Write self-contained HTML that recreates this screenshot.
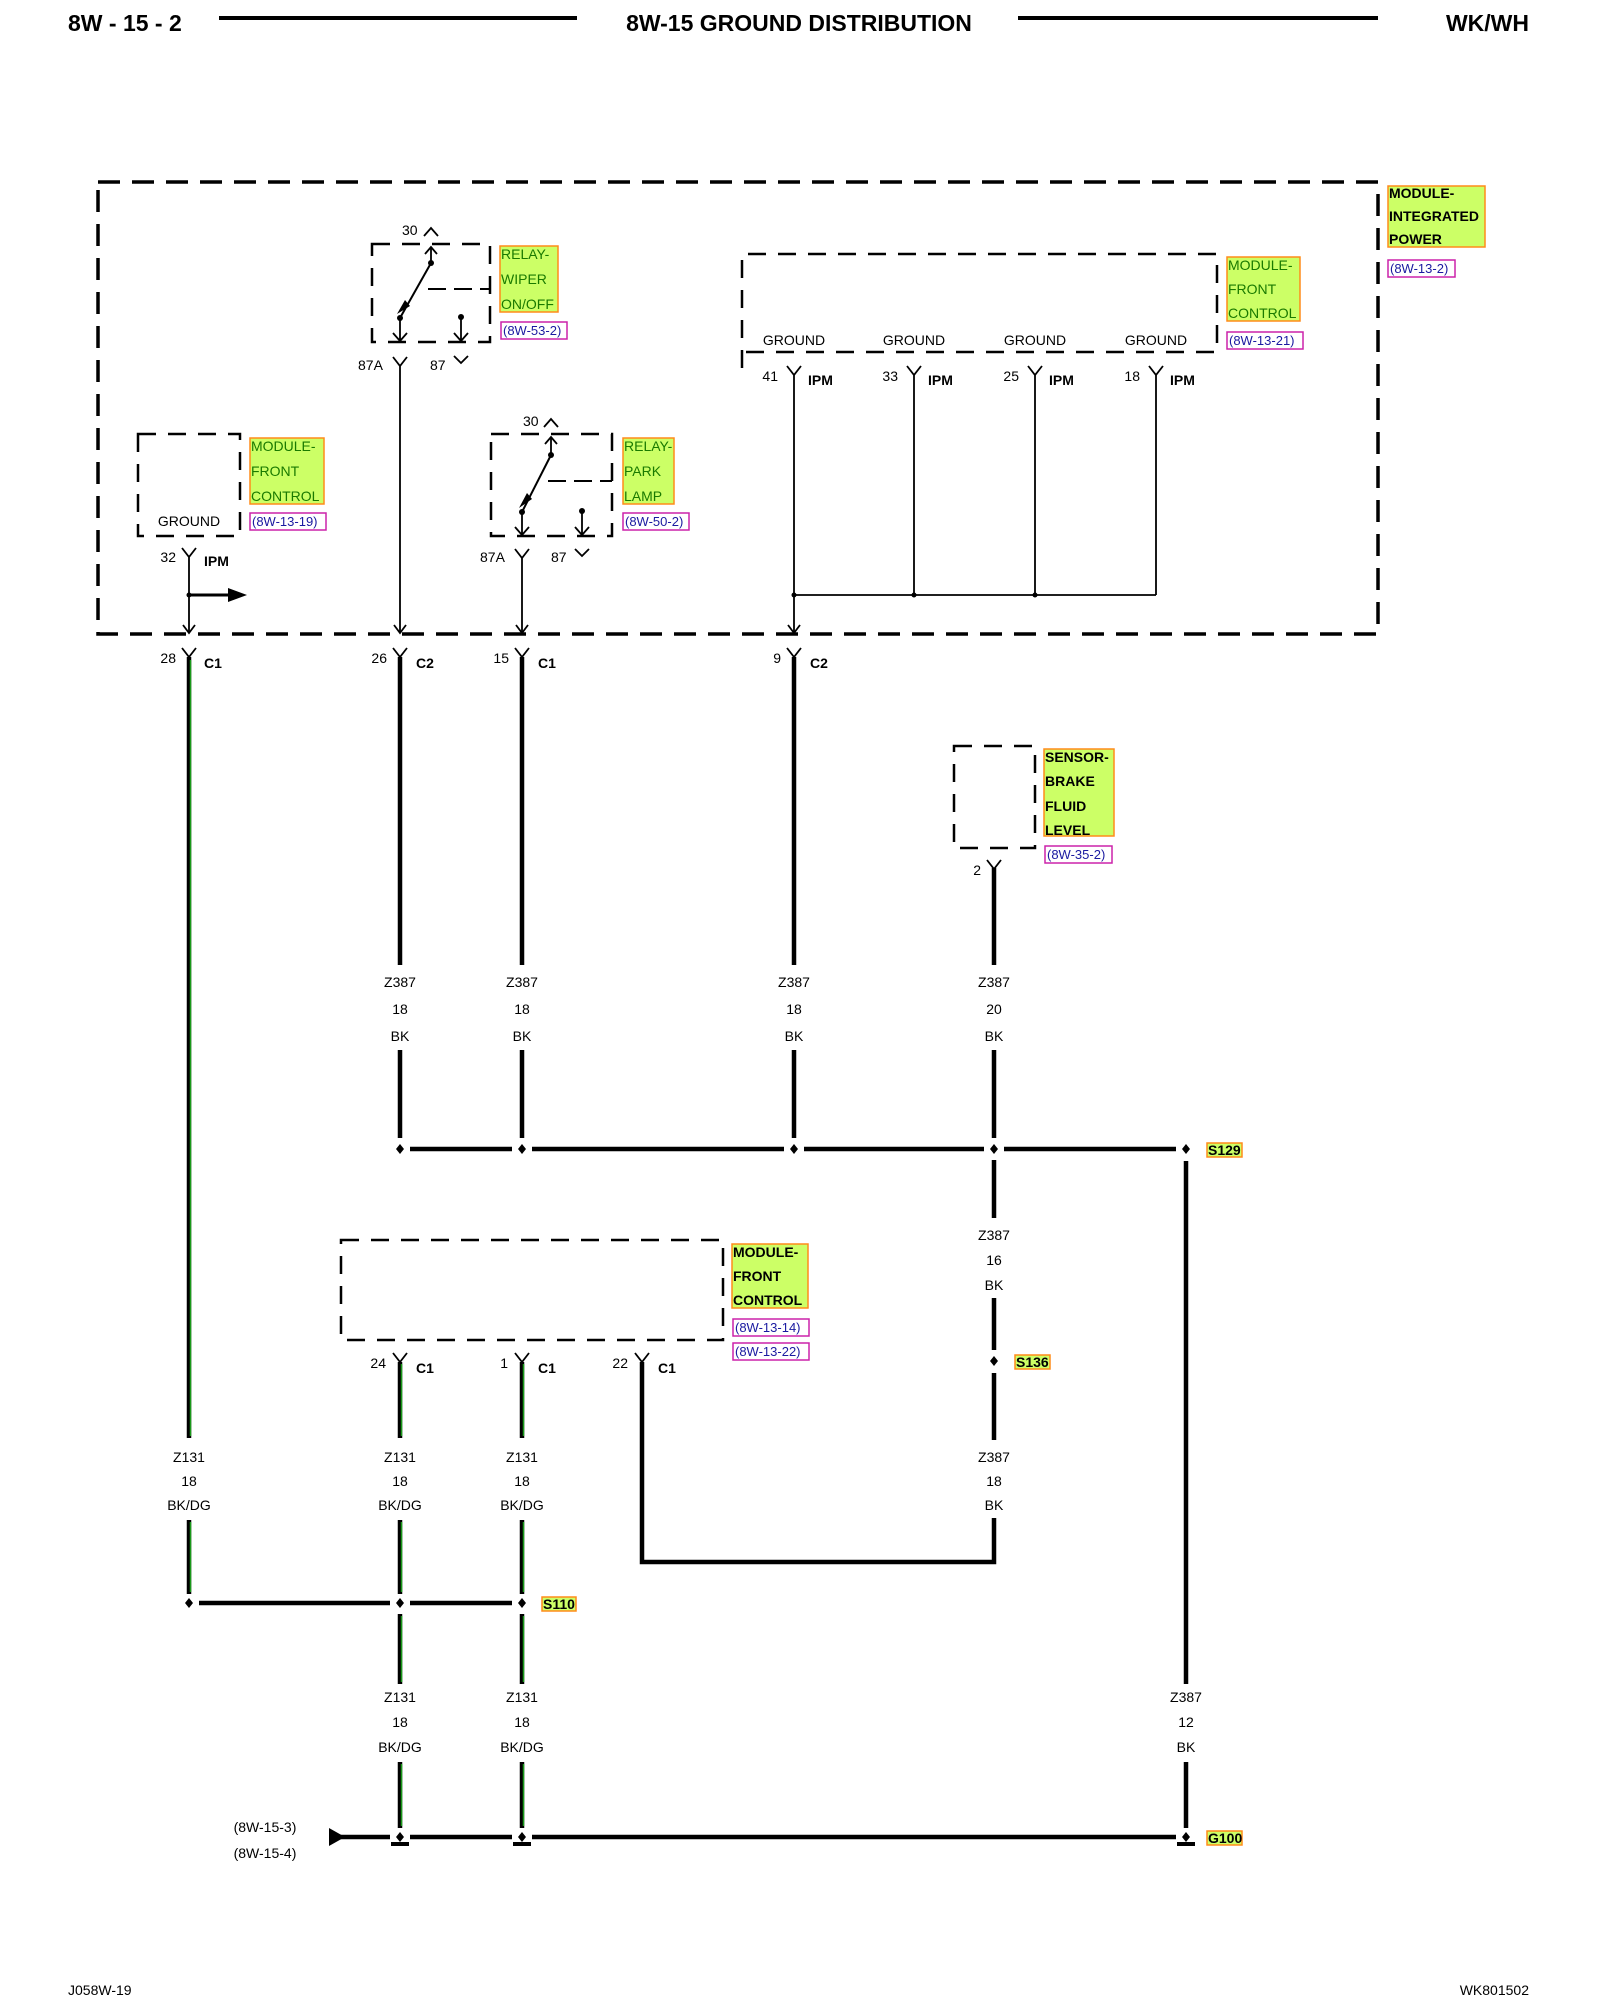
<!DOCTYPE html>
<html><head><meta charset="utf-8"><style>
html,body{margin:0;padding:0;background:#fff;}
svg{display:block;}
text{font-family:"Liberation Sans",sans-serif;}
</style></head><body>
<svg width="1600" height="2000" viewBox="0 0 1600 2000" xmlns="http://www.w3.org/2000/svg">
<defs>
<style>
.t{font-size:14px;fill:#000;}
.b{font-size:14px;font-weight:bold;fill:#000;}
.g{font-size:14px;fill:#1a7a00;}
.r{font-size:13px;fill:#1a1aa0;}
.h{font-size:23px;font-weight:bold;fill:#000;}
.fr{fill:none;stroke:#000;stroke-width:3.5;stroke-dasharray:22 12;}
.mb{fill:none;stroke:#000;stroke-width:2.5;stroke-dasharray:18 12;}
.thin{stroke:#000;stroke-width:1.8;fill:none;}
.w{stroke:#000;stroke-width:4.5;fill:none;}
.gw{stroke:#1a9a1a;stroke-width:1.5;fill:none;}
.lb{fill:#ccff66;stroke:#ff8c1a;stroke-width:1.5;}
.rb{fill:#fff;stroke:#cc22aa;stroke-width:1.5;}
</style>
</defs>
<!-- Header -->
<text x="68" y="31" class="h">8W - 15 - 2</text>
<line x1="219" y1="18" x2="577" y2="18" stroke="#000" stroke-width="4"/>
<text x="799" y="31" class="h" text-anchor="middle">8W-15 GROUND DISTRIBUTION</text>
<line x1="1018" y1="18" x2="1378" y2="18" stroke="#000" stroke-width="4"/>
<text x="1529" y="31" class="h" text-anchor="end">WK/WH</text>

<!-- IPM frame -->
<rect x="98" y="182" width="1280" height="452" class="fr"/>
<rect x="1388" y="186" width="97" height="61" class="lb"/>
<text x="1389" y="198" class="b">MODULE-</text>
<text x="1389" y="221" class="b">INTEGRATED</text>
<text x="1389" y="244" class="b">POWER</text>
<rect x="1388" y="260" width="67" height="17" class="rb"/>
<text x="1390" y="273" class="r">(8W-13-2)</text>

<!-- Wiper relay -->
<rect x="372" y="244" width="118" height="98" class="mb"/>
<text x="402" y="235" class="t">30</text>
<path d="M424 236 L431 228 L438 236" class="thin"/>
<path d="M431 263 L431 248 M425 254 L431 247 L437 254" class="thin"/>
<circle cx="431" cy="263" r="3"/>
<line x1="431" y1="263" x2="400" y2="318" stroke="#000" stroke-width="2"/>
<path d="M405 300 L397 314 L410 306 Z"/>
<circle cx="400" cy="318" r="3"/>
<path d="M400 318 L400 341 M393 333 L400 341 L407 333" class="thin"/>
<line x1="428" y1="289" x2="490" y2="289" stroke="#000" stroke-width="2" stroke-dasharray="18 8"/>
<circle cx="461" cy="317" r="3"/>
<path d="M461 317 L461 341 M454 333 L461 341 L468 333" class="thin"/>
<rect x="500" y="246" width="58" height="66" class="lb"/>
<text x="501" y="259" class="g">RELAY-</text>
<text x="501" y="284" class="g">WIPER</text>
<text x="501" y="309" class="g">ON/OFF</text>
<rect x="501" y="322" width="66" height="17" class="rb"/>
<text x="503" y="335" class="r">(8W-53-2)</text>
<text x="358" y="370" class="t">87A</text>
<path d="M393 357 L400 366 L407 357 M400 366 L400 632" class="thin"/>
<path d="M394 625 L400 633 L406 625" class="thin"/>
<text x="430" y="370" class="t">87</text>
<path d="M454 356 L461 363 L468 356" class="thin"/>

<!-- Front control module (top) -->
<path d="M742 368 L742 254 L1217 254 L1217 352 L742 352" class="mb"/>
<text x="794" y="345" class="t" text-anchor="middle">GROUND</text>
<text x="914" y="345" class="t" text-anchor="middle">GROUND</text>
<text x="1035" y="345" class="t" text-anchor="middle">GROUND</text>
<text x="1156" y="345" class="t" text-anchor="middle">GROUND</text>
<rect x="1227" y="257" width="73" height="64" class="lb"/>
<text x="1228" y="270" class="g">MODULE-</text>
<text x="1228" y="294" class="g">FRONT</text>
<text x="1228" y="318" class="g">CONTROL</text>
<rect x="1227" y="332" width="76" height="17" class="rb"/>
<text x="1229" y="345" class="r">(8W-13-21)</text>
<g>
<text x="778" y="381" class="t" text-anchor="end">41</text><text x="808" y="385" class="b">IPM</text>
<path d="M787 366 L794 375 L801 366 M794 375 L794 632" class="thin"/>
<text x="898" y="381" class="t" text-anchor="end">33</text><text x="928" y="385" class="b">IPM</text>
<path d="M907 366 L914 375 L921 366 M914 375 L914 595" class="thin"/>
<text x="1019" y="381" class="t" text-anchor="end">25</text><text x="1049" y="385" class="b">IPM</text>
<path d="M1028 366 L1035 375 L1042 366 M1035 375 L1035 595" class="thin"/>
<text x="1140" y="381" class="t" text-anchor="end">18</text><text x="1170" y="385" class="b">IPM</text>
<path d="M1149 366 L1156 375 L1163 366 M1156 375 L1156 595" class="thin"/>
<line x1="794" y1="595" x2="1156" y2="595" class="thin"/>
<circle cx="794" cy="595" r="2.5"/><circle cx="914" cy="595" r="2.5"/><circle cx="1035" cy="595" r="2.5"/>
<path d="M788 625 L794 633 L800 625" class="thin"/>
</g>

<!-- Left module -->
<path d="M138 434 L240 434 L240 536 L138 536 Z" class="mb"/>
<text x="189" y="526" class="t" text-anchor="middle">GROUND</text>
<rect x="250" y="438" width="74" height="66" class="lb"/>
<text x="251" y="451" class="g">MODULE-</text>
<text x="251" y="476" class="g">FRONT</text>
<text x="251" y="501" class="g">CONTROL</text>
<rect x="250" y="513" width="76" height="17" class="rb"/>
<text x="252" y="526" class="r">(8W-13-19)</text>
<text x="176" y="562" class="t" text-anchor="end">32</text><text x="204" y="566" class="b">IPM</text>
<path d="M182 548 L189 557 L196 548 M189 557 L189 632" class="thin"/>
<path d="M183 625 L189 633 L195 625" class="thin"/>
<circle cx="189" cy="595" r="2.5"/>
<line x1="189" y1="595" x2="232" y2="595" stroke="#000" stroke-width="3"/>
<path d="M228 588 L247 595 L228 602 Z"/>

<!-- Park lamp relay -->
<rect x="491" y="434" width="121" height="102" class="mb"/>
<text x="523" y="426" class="t">30</text>
<path d="M544 427 L551 419 L558 427" class="thin"/>
<path d="M551 455 L551 438 M545 444 L551 437 L557 444" class="thin"/>
<circle cx="551" cy="455" r="3"/>
<line x1="551" y1="455" x2="522" y2="512" stroke="#000" stroke-width="2"/>
<path d="M527 493 L519 508 L532 499 Z"/>
<circle cx="522" cy="512" r="3"/>
<path d="M522 512 L522 535 M515 527 L522 535 L529 527" class="thin"/>
<line x1="548" y1="481" x2="612" y2="481" stroke="#000" stroke-width="2" stroke-dasharray="18 8"/>
<circle cx="582" cy="511" r="3"/>
<path d="M582 511 L582 535 M575 527 L582 535 L589 527" class="thin"/>
<rect x="623" y="438" width="51" height="66" class="lb"/>
<text x="624" y="451" class="g">RELAY-</text>
<text x="624" y="476" class="g">PARK</text>
<text x="624" y="501" class="g">LAMP</text>
<rect x="623" y="513" width="66" height="17" class="rb"/>
<text x="625" y="526" class="r">(8W-50-2)</text>
<text x="480" y="562" class="t">87A</text>
<path d="M515 549 L522 558 L529 549 M522 558 L522 632" class="thin"/>
<path d="M516 625 L522 633 L528 625" class="thin"/>
<text x="551" y="562" class="t">87</text>
<path d="M575 549 L582 556 L589 549" class="thin"/>

<!-- Connectors below frame -->
<g>
<text x="176" y="663" class="t" text-anchor="end">28</text><text x="204" y="668" class="b">C1</text>
<path d="M182 648 L189 657 L196 648" class="thin" stroke-width="2.5"/>
<text x="387" y="663" class="t" text-anchor="end">26</text><text x="416" y="668" class="b">C2</text>
<path d="M393 648 L400 657 L407 648" class="thin" stroke-width="2.5"/>
<text x="509" y="663" class="t" text-anchor="end">15</text><text x="538" y="668" class="b">C1</text>
<path d="M515 648 L522 657 L529 648" class="thin" stroke-width="2.5"/>
<text x="781" y="663" class="t" text-anchor="end">9</text><text x="810" y="668" class="b">C2</text>
<path d="M787 648 L794 657 L801 648" class="thin" stroke-width="2.5"/>
</g>

<!-- Z131 left wire -->
<line x1="189" y1="657" x2="189" y2="1438" class="w"/>
<line x1="190.5" y1="660" x2="190.5" y2="1436" class="gw"/>
<text x="189" y="1462" class="t" text-anchor="middle">Z131</text>
<text x="189" y="1486" class="t" text-anchor="middle">18</text>
<text x="189" y="1510" class="t" text-anchor="middle">BK/DG</text>
<line x1="189" y1="1520" x2="189" y2="1594" class="w"/>
<line x1="190.5" y1="1522" x2="190.5" y2="1592" class="gw"/>

<!-- Z387 wires upper -->
<g>
<line x1="400" y1="657" x2="400" y2="965" class="w"/>
<line x1="522" y1="657" x2="522" y2="965" class="w"/>
<line x1="794" y1="657" x2="794" y2="965" class="w"/>
<line x1="994" y1="868" x2="994" y2="965" class="w"/>
<text x="400" y="987" class="t" text-anchor="middle">Z387</text><text x="400" y="1014" class="t" text-anchor="middle">18</text><text x="400" y="1041" class="t" text-anchor="middle">BK</text>
<text x="522" y="987" class="t" text-anchor="middle">Z387</text><text x="522" y="1014" class="t" text-anchor="middle">18</text><text x="522" y="1041" class="t" text-anchor="middle">BK</text>
<text x="794" y="987" class="t" text-anchor="middle">Z387</text><text x="794" y="1014" class="t" text-anchor="middle">18</text><text x="794" y="1041" class="t" text-anchor="middle">BK</text>
<text x="994" y="987" class="t" text-anchor="middle">Z387</text><text x="994" y="1014" class="t" text-anchor="middle">20</text><text x="994" y="1041" class="t" text-anchor="middle">BK</text>
<line x1="400" y1="1050" x2="400" y2="1138" class="w"/>
<line x1="522" y1="1050" x2="522" y2="1138" class="w"/>
<line x1="794" y1="1050" x2="794" y2="1138" class="w"/>
<line x1="994" y1="1050" x2="994" y2="1138" class="w"/>
</g>

<!-- Sensor -->
<path d="M954 746 L1035 746 L1035 848 L954 848 Z" class="mb"/>
<rect x="1044" y="749" width="70" height="87" class="lb"/>
<text x="1045" y="762" class="b">SENSOR-</text>
<text x="1045" y="786" class="b">BRAKE</text>
<text x="1045" y="811" class="b">FLUID</text>
<text x="1045" y="835" class="b">LEVEL</text>
<rect x="1045" y="846" width="67" height="17" class="rb"/>
<text x="1047" y="859" class="r">(8W-35-2)</text>
<text x="981" y="875" class="t" text-anchor="end">2</text>
<path d="M987 860 L994 869 L1001 860" class="thin" stroke-width="2.5"/>

<!-- S129 bus -->
<g fill="#000">
<line x1="410" y1="1149" x2="512" y2="1149" class="w"/>
<line x1="532" y1="1149" x2="784" y2="1149" class="w"/>
<line x1="804" y1="1149" x2="984" y2="1149" class="w"/>
<line x1="1004" y1="1149" x2="1176" y2="1149" class="w"/>
<path d="M400 1144 L404 1149 L400 1154 L396 1149 Z"/>
<path d="M522 1144 L526 1149 L522 1154 L518 1149 Z"/>
<path d="M794 1144 L798 1149 L794 1154 L790 1149 Z"/>
<path d="M994 1144 L998 1149 L994 1154 L990 1149 Z"/>
<path d="M1186 1144 L1190 1149 L1186 1154 L1182 1149 Z"/>
</g>
<rect x="1207" y="1143" width="35" height="14" fill="#ccff66" stroke="#ff8c1a" stroke-width="1.5"/>
<text x="1208" y="1155" class="b" font-size="13">S129</text>

<!-- Right vertical to G100 -->
<line x1="1186" y1="1161" x2="1186" y2="1684" class="w"/>
<text x="1186" y="1702" class="t" text-anchor="middle">Z387</text>
<text x="1186" y="1727" class="t" text-anchor="middle">12</text>
<text x="1186" y="1752" class="t" text-anchor="middle">BK</text>
<line x1="1186" y1="1762" x2="1186" y2="1828" class="w"/>

<!-- Z387 994 lower -->
<line x1="994" y1="1160" x2="994" y2="1218" class="w"/>
<text x="994" y="1240" class="t" text-anchor="middle">Z387</text>
<text x="994" y="1265" class="t" text-anchor="middle">16</text>
<text x="994" y="1290" class="t" text-anchor="middle">BK</text>
<line x1="994" y1="1298" x2="994" y2="1350" class="w"/>
<path d="M994 1356 L998 1361 L994 1366 L990 1361 Z"/>
<rect x="1015" y="1355" width="35" height="14" fill="#ccff66" stroke="#ff8c1a" stroke-width="1.5"/>
<text x="1016" y="1367" class="b" font-size="13">S136</text>
<line x1="994" y1="1373" x2="994" y2="1440" class="w"/>
<text x="994" y="1462" class="t" text-anchor="middle">Z387</text>
<text x="994" y="1486" class="t" text-anchor="middle">18</text>
<text x="994" y="1510" class="t" text-anchor="middle">BK</text>
<path d="M994 1518 L994 1562 L642 1562 L642 1362" class="w"/>

<!-- Lower front control module -->
<path d="M341 1240 L723 1240 L723 1340 L341 1340 Z" class="mb"/>
<rect x="732" y="1244" width="76" height="64" class="lb"/>
<text x="733" y="1257" class="b">MODULE-</text>
<text x="733" y="1281" class="b">FRONT</text>
<text x="733" y="1305" class="b">CONTROL</text>
<rect x="733" y="1319" width="76" height="17" class="rb"/>
<text x="735" y="1332" class="r">(8W-13-14)</text>
<rect x="733" y="1343" width="76" height="17" class="rb"/>
<text x="735" y="1356" class="r">(8W-13-22)</text>
<text x="386" y="1368" class="t" text-anchor="end">24</text><text x="416" y="1373" class="b">C1</text>
<path d="M393 1353 L400 1362 L407 1353" class="thin" stroke-width="2.5"/>
<text x="508" y="1368" class="t" text-anchor="end">1</text><text x="538" y="1373" class="b">C1</text>
<path d="M515 1353 L522 1362 L529 1353" class="thin" stroke-width="2.5"/>
<text x="628" y="1368" class="t" text-anchor="end">22</text><text x="658" y="1373" class="b">C1</text>
<path d="M635 1353 L642 1362 L649 1353" class="thin" stroke-width="2.5"/>

<!-- Z131 wires 400 and 522 -->
<g>
<line x1="400" y1="1362" x2="400" y2="1438" class="w"/><line x1="401.5" y1="1364" x2="401.5" y2="1436" class="gw"/>
<line x1="522" y1="1362" x2="522" y2="1438" class="w"/><line x1="523.5" y1="1364" x2="523.5" y2="1436" class="gw"/>
<text x="400" y="1462" class="t" text-anchor="middle">Z131</text><text x="400" y="1486" class="t" text-anchor="middle">18</text><text x="400" y="1510" class="t" text-anchor="middle">BK/DG</text>
<text x="522" y="1462" class="t" text-anchor="middle">Z131</text><text x="522" y="1486" class="t" text-anchor="middle">18</text><text x="522" y="1510" class="t" text-anchor="middle">BK/DG</text>
<line x1="400" y1="1520" x2="400" y2="1594" class="w"/><line x1="401.5" y1="1522" x2="401.5" y2="1592" class="gw"/>
<line x1="522" y1="1520" x2="522" y2="1594" class="w"/><line x1="523.5" y1="1522" x2="523.5" y2="1592" class="gw"/>
</g>
<!-- S110 bus -->
<line x1="199" y1="1603" x2="390" y2="1603" class="w"/>
<line x1="410" y1="1603" x2="512" y2="1603" class="w"/>
<path d="M189 1598 L193 1603 L189 1608 L185 1603 Z"/>
<path d="M400 1598 L404 1603 L400 1608 L396 1603 Z"/>
<path d="M522 1598 L526 1603 L522 1608 L518 1603 Z"/>
<rect x="542" y="1597" width="34" height="14" fill="#ccff66" stroke="#ff8c1a" stroke-width="1.5"/>
<text x="543" y="1609" class="b" font-size="13">S110</text>
<g>
<line x1="400" y1="1614" x2="400" y2="1684" class="w"/><line x1="401.5" y1="1616" x2="401.5" y2="1682" class="gw"/>
<line x1="522" y1="1614" x2="522" y2="1684" class="w"/><line x1="523.5" y1="1616" x2="523.5" y2="1682" class="gw"/>
<text x="400" y="1702" class="t" text-anchor="middle">Z131</text><text x="400" y="1727" class="t" text-anchor="middle">18</text><text x="400" y="1752" class="t" text-anchor="middle">BK/DG</text>
<text x="522" y="1702" class="t" text-anchor="middle">Z131</text><text x="522" y="1727" class="t" text-anchor="middle">18</text><text x="522" y="1752" class="t" text-anchor="middle">BK/DG</text>
<line x1="400" y1="1762" x2="400" y2="1828" class="w"/><line x1="401.5" y1="1764" x2="401.5" y2="1826" class="gw"/>
<line x1="522" y1="1762" x2="522" y2="1828" class="w"/><line x1="523.5" y1="1764" x2="523.5" y2="1826" class="gw"/>
</g>

<!-- G100 ground bus -->
<path d="M329 1828 L345 1837 L329 1846 Z"/>
<line x1="340" y1="1837" x2="390" y2="1837" class="w"/>
<line x1="410" y1="1837" x2="512" y2="1837" class="w"/>
<line x1="532" y1="1837" x2="1176" y2="1837" class="w"/>
<path d="M400 1832 L404 1837 L400 1842 L396 1837 Z"/>
<path d="M522 1832 L526 1837 L522 1842 L518 1837 Z"/>
<path d="M1186 1832 L1190 1837 L1186 1842 L1182 1837 Z"/>
<rect x="391" y="1842" width="18" height="4"/>
<rect x="513" y="1842" width="18" height="4"/>
<rect x="1177" y="1842" width="18" height="4"/>
<rect x="1207" y="1831" width="35" height="14" fill="#ccff66" stroke="#ff8c1a" stroke-width="1.5"/>
<text x="1208" y="1843" class="b" font-size="13">G100</text>
<text x="265" y="1832" class="t" text-anchor="middle">(8W-15-3)</text>
<text x="265" y="1858" class="t" text-anchor="middle">(8W-15-4)</text>

<!-- Footer -->
<text x="68" y="1995" class="t">J058W-19</text>
<text x="1529" y="1995" class="t" text-anchor="end">WK801502</text>
</svg>
</body></html>
